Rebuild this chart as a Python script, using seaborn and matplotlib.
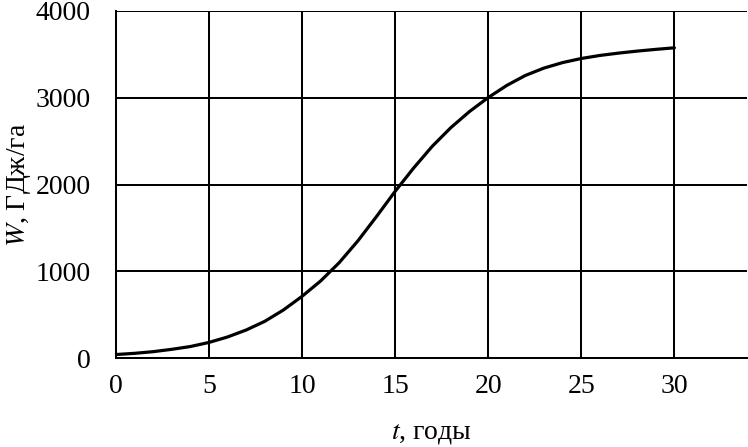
import numpy as np
import pandas as pd
import matplotlib
matplotlib.use("Agg")
import matplotlib.pyplot as plt
import seaborn as sns

# Data
years = [0, 1, 2, 3, 4, 5, 6, 7, 8, 9, 10, 11, 12, 13, 14, 15,
         16, 17, 18, 19, 20, 21, 22, 23, 24, 25, 26, 27, 28, 29, 30]
energy = [43, 57, 76, 103, 135, 182, 245, 325, 425, 555, 712, 889, 1100, 1350, 1630, 1920,
          2190, 2440, 2655, 2840, 3000, 3140, 3255, 3340, 3403, 3450, 3485, 3512, 3535, 3555, 3573]
x_ticks = [0, 5, 10, 15, 20, 25, 30]
y_ticks = [0, 1000, 2000, 3000, 4000]

sns.set_theme(style="white")
plt.rcParams["font.family"] = ["Liberation Serif", "DejaVu Serif"]
plt.rcParams["mathtext.fontset"] = "stix"

df = pd.DataFrame({"t": years, "W": energy})

fig = plt.figure(figsize=(7.48, 4.47), dpi=100)
ax = fig.add_axes([115.7 / 748, 1 - 358.3 / 447, (747 - 115.7) / 748, (358.3 - 10.7) / 447])

sns.lineplot(data=df, x="t", y="W", ax=ax, color="black", linewidth=2.3)
ax.lines[0].set_solid_joinstyle("round")

ax.set_xlim(0, 33.9)
ax.set_ylim(0, 4000)
ax.set_xticks(x_ticks)
ax.set_yticks(y_ticks)
ax.grid(True, color="black", linewidth=1.45)
ax.set_axisbelow(True)
for s in ["top", "right"]:
    ax.spines[s].set_visible(False)
for s in ["left", "bottom"]:
    ax.spines[s].set_color("black")
    ax.spines[s].set_linewidth(1.45)

ax.tick_params(axis="both", direction="out", length=6, width=1.45, color="black",
               labelsize=20, labelcolor="black")
ax.tick_params(axis="x", pad=5)
ax.tick_params(axis="y", pad=12)

ax.set_xlabel("$t$, годы", fontsize=20, color="black", labelpad=16)
ax.set_ylabel("$W$, ГДж/га", fontsize=20, color="black", labelpad=2)

fig.savefig("out.png", dpi=100)
